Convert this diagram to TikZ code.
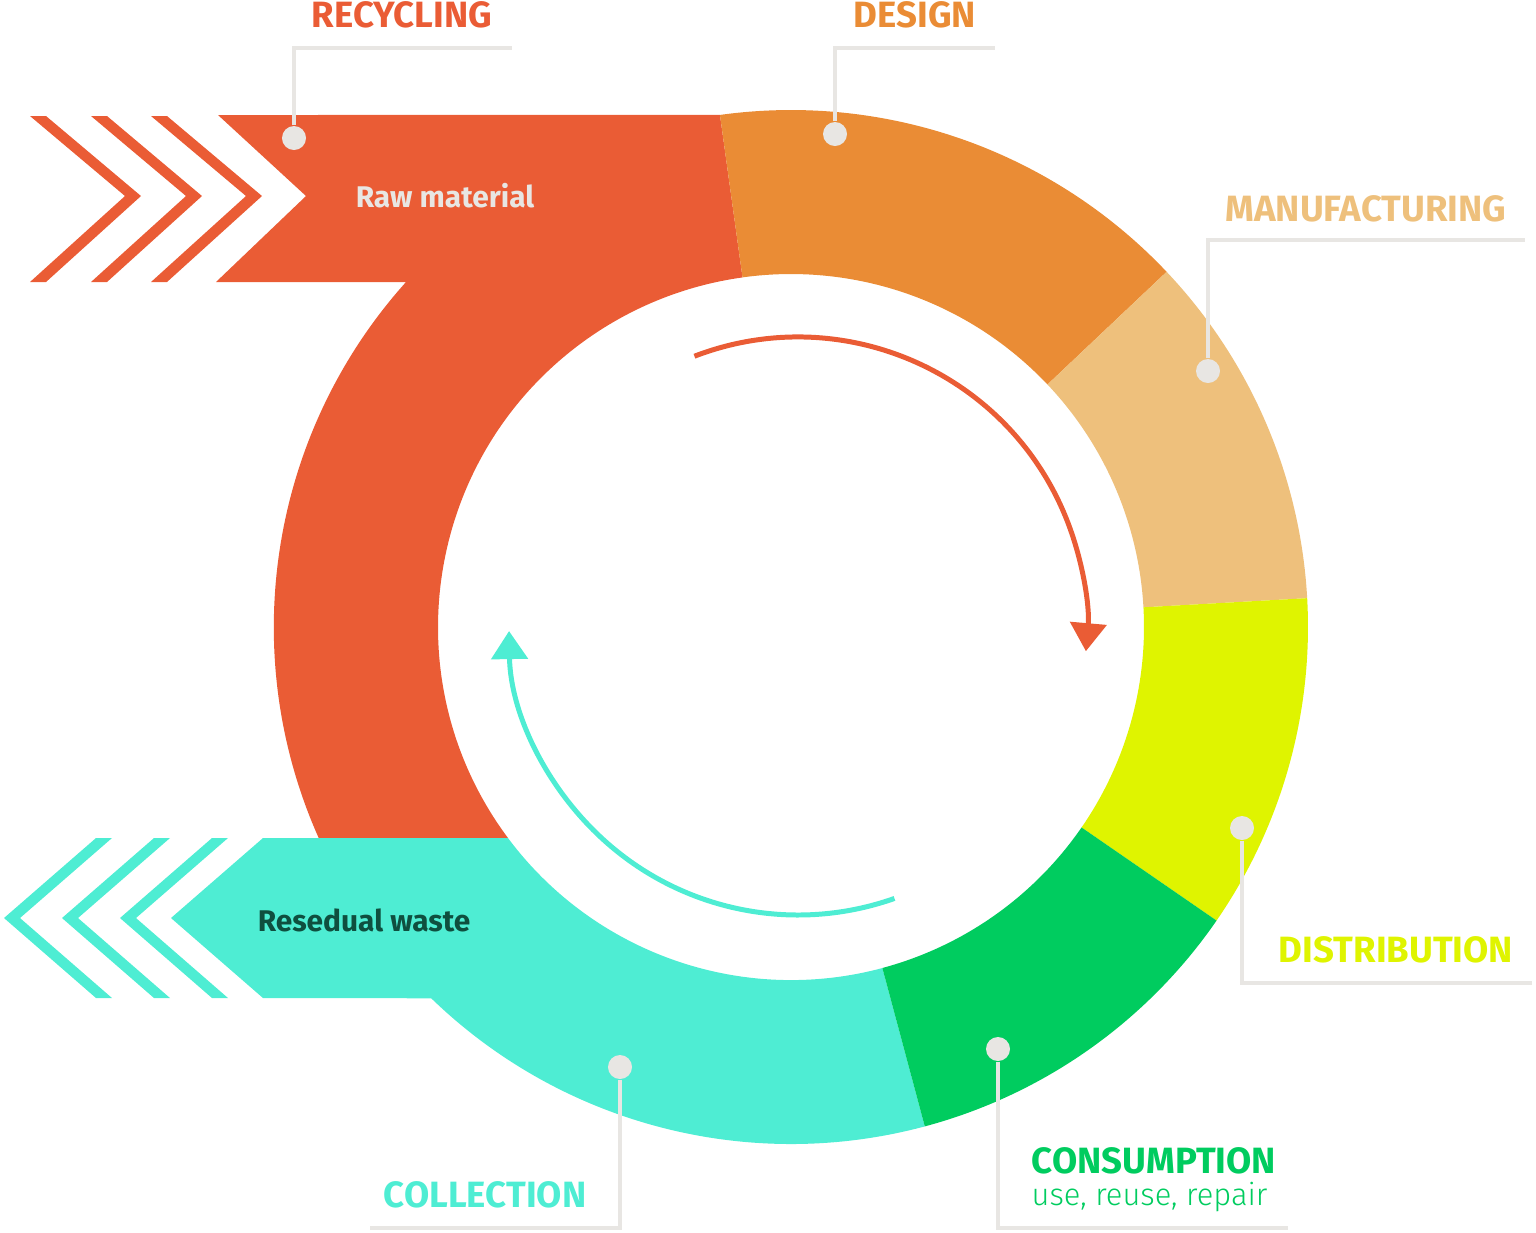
\documentclass[tikz,border=0pt]{standalone}
\usepackage{fontspec}
\setmainfont{Fira Sans}
\newfontfamily\lightfont{Fira Sans Light}
\usetikzlibrary{arrows.meta,calc}

\definecolor{recyc}{HTML}{EA5C35}
\definecolor{design}{HTML}{EA8C35}
\definecolor{manuf}{HTML}{EEC07C}
\definecolor{distrib}{HTML}{DFF400}
\definecolor{consum}{HTML}{00CC5F}
\definecolor{coll}{HTML}{4EEDD3}
\definecolor{leadgray}{HTML}{E8E6E3}
\definecolor{wastetext}{HTML}{0F4F3F}

\tikzset{
  leader/.style={draw=leadgray,line width=1.14pt},
  dot/.style={circle,fill=leadgray,inner sep=0pt,minimum size=0.24cm},
  stage/.style={font=\fontsize{10.4}{12}\selectfont\bfseries,inner sep=0pt,anchor=base},
  flow/.style={font=\fontsize{8.5}{10}\selectfont\bfseries,inner sep=0pt,anchor=base},
  subline/.style={font=\fontsize{8.8}{10}\selectfont\lightfont,inner sep=0pt,anchor=base west},
  turn/.style={line width=1.42pt,-{Triangle[length=0.28cm,width=0.36cm]}}
}

\begin{document}
\begin{tikzpicture}[x=0.01cm,y=-0.01cm]
\useasboundingbox (0,0) rectangle (1536,1232);
\coordinate (c) at (791,627);
\coordinate (m) at (798,626);

\foreach \x in {30,91,151}
  \fill[recyc] (\x,116) -- ++(16,0) -- ++(95,80) -- ++(-95,86) -- ++(-16,0) -- ++(95,-86) -- cycle;
\fill[recyc] (218,115) -- (306,196) -- (216,282) -- (406,282)
  arc[start angle=-138.1,end angle=-204.1,radius=517] -- (508,838)
  arc[start angle=143.3,end angle=262.1,radius=353] -- ($(c)+(-97.9:517)$) -- cycle;

\foreach \x in {96,154,212}
  \fill[coll] (\x,838) -- ++(16,0) -- ++(-92,80) -- ++(92,80) -- ++(-16,0) -- ++(-92,-80) -- cycle;
\fill[coll] (263,838) -- (508,838) arc[start angle=143.3,end angle=75,radius=353]
  -- ($(c)+(75:517)$) arc[start angle=75,end angle=134.1,radius=517] -- (263,998) -- (171,918) -- cycle;

\foreach \a/\b/\col in {-97.9/-43.4/design,-43.4/-3.2/manuf,-3.2/34.6/distrib,34.6/75/consum}
  \fill[\col] ($(c)+(\a:517)$) arc[start angle=\a,end angle=\b,radius=517]
    -- ($(c)+(\b:353)$) arc[start angle=\b,end angle=\a,radius=353] -- cycle;

\draw[turn,recyc] ($(m)+(-111:289)$) arc[start angle=-111,end angle=5,radius=289];
\draw[turn,coll] ($(m)+(70.5:289)$) arc[start angle=70.5,end angle=179,radius=289];

\node[flow,leadgray] (raw) at (445,207) {Raw material};
\node[flow,wastetext] (waste) at (364,931) {Resedual waste};

\node[stage,recyc] (recycling) at (402,27) {RECYCLING};
\node[stage,design] (designing) at (915,27) {DESIGN};
\node[stage,manuf] (manufacturing) at (1366,221) {MANUFACTURING};
\node[stage,distrib] (distribution) at (1396,962) {DISTRIBUTION};
\node[stage,consum,anchor=base west] (consumption) at (1031,1173) {CONSUMPTION};
\node[subline,consum] (uses) at (1031,1205) {use, reuse, repair};
\node[stage,coll] (collection) at (485,1207) {COLLECTION};

\node[dot] (recdot) at (294,138) {};
\coordinate (recbend) at (294,48);
\coordinate (recend) at (512,48);
\draw[leader] (recdot) -- (recbend) -- (recend);

\node[dot] (desdot) at (835,134) {};
\coordinate (desbend) at (835,48);
\coordinate (desend) at (995,48);
\draw[leader] (desdot) -- (desbend) -- (desend);

\node[dot] (mandot) at (1208,371) {};
\coordinate (manbend) at (1208,240);
\coordinate (manend) at (1525,240);
\draw[leader] (mandot) -- (manbend) -- (manend);

\node[dot] (disdot) at (1242,828) {};
\coordinate (disbend) at (1242,983);
\coordinate (disend) at (1532,983);
\draw[leader] (disdot) -- (disbend) -- (disend);

\node[dot] (condot) at (998,1049) {};
\coordinate (conbend) at (998,1228);
\coordinate (conend) at (1288,1228);
\draw[leader] (condot) -- (conbend) -- (conend);

\node[dot] (coldot) at (620,1067) {};
\coordinate (colbend) at (620,1228);
\coordinate (colend) at (370,1228);
\draw[leader] (coldot) -- (colbend) -- (colend);
\end{tikzpicture}
\end{document}
